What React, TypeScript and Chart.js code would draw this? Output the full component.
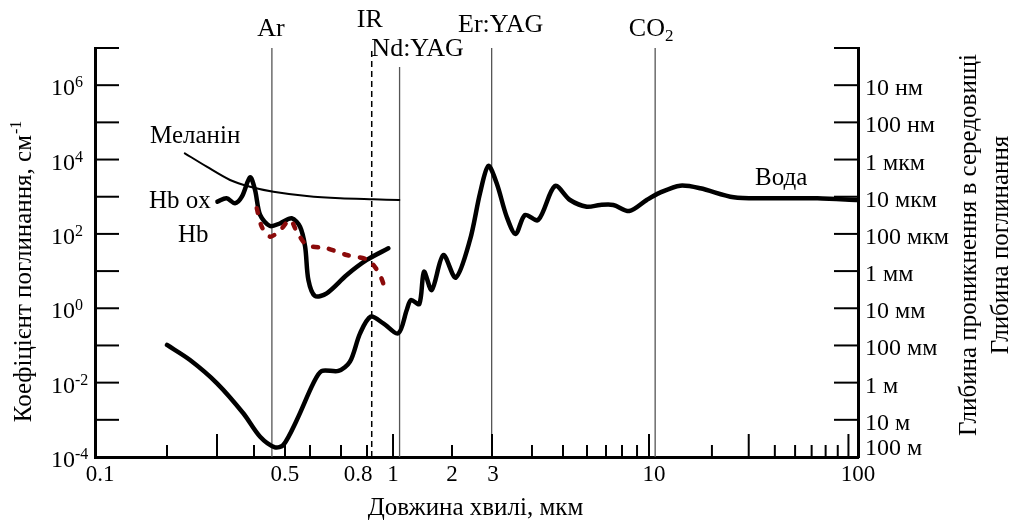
import React, { useEffect, useRef } from 'react';
import { Chart, registerables, LogarithmicScale } from 'chart.js';

Chart.register(...registerables);

// ---------------- data ----------------
// wavelength in µm, absorption coefficient in cm^-1
const waterWavelength = [0.2, 0.241, 0.3, 0.368, 0.418, 0.465, 0.494, 0.545, 0.61, 0.636, 0.691, 0.733, 0.772, 0.826, 0.92, 1.064, 1.175, 1.235, 1.362, 1.439, 1.576, 1.806, 2.077, 2.4, 2.657, 2.89, 3.103, 3.335, 3.557, 3.804, 4.185, 4.72, 5.274, 5.987, 6.67, 7.441, 8.472, 9.8, 11.29, 14.1, 17.59, 25.43, 36.8, 64, 100];
const waterAbsorption = [0.103, 0.0406, 0.0096, 0.0015, 3.5e-4, 1.82e-4, 2.1e-4, 9.9e-4, 0.0096, 0.0206, 0.0206, 0.0366, 0.212, 0.594, 0.394, 0.212, 0.9, 1.67, 1.3, 9.64, 3.1, 27.1, 6.65, 68.6, 1237, 6714, 2300, 290, 99.5, 323, 237, 1945, 817, 540, 600, 600, 413, 817, 1285, 1982, 1687, 966, 908, 908, 817];

const hbOxWavelength = [0.301, 0.323, 0.345, 0.364, 0.388, 0.403, 0.418, 0.449, 0.483, 0.525, 0.558, 0.579, 0.593, 0.615, 0.652, 0.721, 0.799, 0.961];
const hbOxAbsorption = [736, 908, 666, 1002, 3334, 1518, 323, 163, 193, 263, 156, 45.3, 5.76, 2.14, 2.53, 7.85, 19.9, 41.0];

const hbWavelength = [0.408, 0.423, 0.449, 0.483, 0.519, 0.545, 0.586, 0.652, 0.721, 0.799, 0.845, 0.894, 0.947];
const hbAbsorption = [489, 156, 84.2, 127, 237, 115, 50.4, 41.0, 27.1, 20.8, 14.6, 7.85, 2.53];

const melaninWavelength = [0.231, 0.276, 0.332, 0.388, 0.46, 0.586, 0.697, 0.845, 1.077];
const melaninAbsorption = [14730, 6427, 2818, 1862, 1366, 1047, 908, 853, 817];

const laserNames = ['Ar', 'IR', 'Nd:YAG', 'Er:YAG', 'CO2'];
const laserWavelengths = [0.455, 0.833, 1.08, 2.99, 10.7];
const laserTopAbsorption = [1e7, 1e7, 3.1e6, 1e7, 1e7];

// wavelength axis as drawn in the source figure (its decades are not evenly spaced)
const axisAnchorWavelengths = [0.1, 0.2, 0.3, 0.4, 0.5, 0.6, 0.7, 0.8, 1, 2, 3, 4, 5, 6, 7, 8, 9, 10, 100];
const axisAnchorFractions = [0, 0.0944, 0.1599, 0.2084, 0.249, 0.2818, 0.3224, 0.3565, 0.3906, 0.4679, 0.5203, 0.5727, 0.6134, 0.6448, 0.6697, 0.6907, 0.7104, 0.7261, 1];

const xTickValues = [0.2, 0.3, 0.4, 0.5, 0.6, 0.7, 0.8, 1, 2, 3, 4, 5, 6, 7, 8, 9, 10, 20, 30, 40, 50, 60, 70, 80, 90];
const xLongTickValues = [0.3, 1, 3, 10, 30, 90];
const xLabelValues = [0.1, 0.5, 0.8, 1, 2, 3, 10, 100];
const xLabelTexts = ['0.1', '0.5', '0.8', '1', '2', '3', '10', '100'];

const yTickExponents = [-3, -2, -1, 0, 1, 2, 3, 4, 5, 6, 7];
const yLabelExponents = [6, 4, 2, 0, -2, -4];
const depthLabelTexts = ['10 нм', '100 нм', '1 мкм', '10 мкм', '100 мкм', '1 мм', '10 мм', '100 мм', '1 м', '10 м', '100 м'];
const depthLabelExponents = [6, 5, 4, 3, 2, 1, 0, -1, -2, -3, -4];

// ---------------- styles ----------------
const SERIF = '"Liberation Serif", "Times New Roman", serif';
const xLabelDx = [5, 0, -9, 0, 0, 1, 5, 0];
const laserLabelDx = [-1, -2, 18, 9, -4];
const laserLabelBaseline = [36, 27, 56, 32, 36];

// ---------------- warped log scale ----------------
const anchorLogs = axisAnchorWavelengths.map((v) => Math.log10(v));
function warp(v: number): number {
  const L = Math.log10(v);
  let i = 0;
  while (i < anchorLogs.length - 2 && L > anchorLogs[i + 1]) i++;
  const F = axisAnchorFractions;
  return F[i] + ((L - anchorLogs[i]) / (anchorLogs[i + 1] - anchorLogs[i])) * (F[i + 1] - F[i]);
}
function unwarp(f: number): number {
  const F = axisAnchorFractions;
  let i = 0;
  while (i < F.length - 2 && f > F[i + 1]) i++;
  return Math.pow(10, anchorLogs[i] + ((f - F[i]) / (F[i + 1] - F[i])) * (anchorLogs[i + 1] - anchorLogs[i]));
}

class WarpedLogScale extends LogarithmicScale {
  static id = 'warpedLog';
  static defaults = {};
  getPixelForValue(value: any) {
    if (value === undefined || value === null || !(value > 0)) return NaN;
    return this.getPixelForDecimal(warp(value));
  }
  getValueForPixel(pixel: number) {
    return unwarp(this.getDecimalForPixel(pixel));
  }
}
Chart.register(WarpedLogScale as any);

const pts = (xs: number[], ys: number[]) => xs.map((x, i) => ({ x, y: ys[i] }));

const overlayPlugin = {
  id: 'overlay',
  afterDraw(chart: any) {
    const { ctx, chartArea: a, scales } = chart;
    const xs = scales.x;
    const ys = scales.y;
    ctx.save();
    ctx.strokeStyle = '#000';
    ctx.fillStyle = '#000';
    ctx.lineWidth = 2;
    const seg = (x1: number, y1: number, x2: number, y2: number) => {
      ctx.beginPath();
      ctx.moveTo(x1, y1);
      ctx.lineTo(x2, y2);
      ctx.stroke();
    };
    // x ticks (inside)
    xTickValues.forEach((v) => {
      const px = xs.getPixelForValue(v);
      const len = xLongTickValues.includes(v) ? 23 : 12;
      seg(px, a.bottom, px, a.bottom - len);
    });
    // y ticks (inside) on both axes
    yTickExponents.forEach((e) => {
      const py = ys.getPixelForValue(Math.pow(10, e));
      seg(a.left, py, a.left + 24, py);
      seg(a.right - 24, py, a.right, py);
    });

    // x tick labels
    ctx.font = `23px ${SERIF}`;
    ctx.textAlign = 'center';
    ctx.textBaseline = 'alphabetic';
    xLabelValues.forEach((v, i) => {
      ctx.fillText(xLabelTexts[i], xs.getPixelForValue(v) + xLabelDx[i], a.bottom + 24);
    });

    // left labels 10^n
    yLabelExponents.forEach((e) => {
      const py = ys.getPixelForValue(Math.pow(10, e));
      ctx.font = `24px ${SERIF}`;
      ctx.textAlign = 'right';
      ctx.fillText('10', a.left - 20, py + 10);
      ctx.font = `16px ${SERIF}`;
      ctx.textAlign = 'left';
      ctx.fillText(String(e), a.left - 20, py + 2);
    });

    // right labels (penetration depth)
    ctx.font = `24px ${SERIF}`;
    ctx.textAlign = 'left';
    depthLabelExponents.forEach((e, i) => {
      const py = ys.getPixelForValue(Math.pow(10, e));
      ctx.fillText(depthLabelTexts[i], a.right + 7, Math.min(py + 10, a.bottom - 2));
    });

    // laser lines labels
    laserNames.forEach((name, i) => {
      const px = xs.getPixelForValue(laserWavelengths[i]) + laserLabelDx[i];
      const by = laserLabelBaseline[i];
      if (name === 'CO2') {
        ctx.font = `26px ${SERIF}`;
        const w1 = ctx.measureText('CO').width;
        ctx.font = `17px ${SERIF}`;
        const w2 = ctx.measureText('2').width;
        const x0 = px - (w1 + w2) / 2;
        ctx.textAlign = 'left';
        ctx.font = `26px ${SERIF}`;
        ctx.fillText('CO', x0, by);
        ctx.font = `17px ${SERIF}`;
        ctx.fillText('2', x0 + w1, by + 5);
      } else {
        ctx.font = `26px ${SERIF}`;
        ctx.textAlign = 'center';
        ctx.fillText(name, px, by);
      }
    });

    // curve labels
    ctx.font = `25px ${SERIF}`;
    ctx.textAlign = 'left';
    ctx.fillText('Меланін', 150, 143);
    ctx.fillText('Hb ox', 149, 208);
    ctx.fillText('Hb', 178, 242);
    ctx.fillText('Вода', 755, 185);

    // bottom title
    ctx.textAlign = 'center';
    ctx.fillText('Довжина хвилі, мкм', (a.left + a.right) / 2 - 1, 515);

    // left title (rotated) with superscript
    ctx.save();
    ctx.translate(31, 272);
    ctx.rotate(-Math.PI / 2);
    ctx.font = `25px ${SERIF}`;
    const main = 'Коефіцієнт поглинання, см';
    const wm = ctx.measureText(main).width;
    ctx.font = `16px ${SERIF}`;
    const ws = ctx.measureText('-1').width;
    const start = -(wm + ws) / 2;
    ctx.textAlign = 'left';
    ctx.font = `25px ${SERIF}`;
    ctx.fillText(main, start, 0);
    ctx.font = `16px ${SERIF}`;
    ctx.fillText('-1', start + wm + 1, -10);
    ctx.restore();

    // right titles (rotated)
    ctx.save();
    ctx.font = `25px ${SERIF}`;
    ctx.textAlign = 'center';
    ctx.translate(976, 245);
    ctx.rotate(-Math.PI / 2);
    ctx.fillText('Глибина проникнення в середовищі', 0, 0);
    ctx.restore();
    ctx.save();
    ctx.font = `25px ${SERIF}`;
    ctx.textAlign = 'center';
    ctx.translate(1008, 245);
    ctx.rotate(-Math.PI / 2);
    ctx.fillText('Глибина поглинання', 0, 0);
    ctx.restore();

    ctx.restore();
  },
};

const curveStyle = {
  pointRadius: 0,
  tension: 0.3,
  borderCapStyle: 'round' as const,
  borderJoinStyle: 'round' as const,
  fill: false,
};

export default function App() {
  const ref = useRef<HTMLCanvasElement | null>(null);
  useEffect(() => {
    if (!ref.current) return;
    const laserSets = laserNames.map((name, i) => ({
      label: name,
      data: [
        { x: laserWavelengths[i], y: 1e-4 },
        { x: laserWavelengths[i], y: laserTopAbsorption[i] },
      ],
      borderColor: name === 'IR' ? '#000' : '#555',
      borderWidth: name === 'IR' ? 1.5 : 1.3,
      borderDash: name === 'IR' ? [6, 4] : [],
      pointRadius: 0,
      tension: 0,
    }));
    const chart = new Chart(ref.current, {
      type: 'line',
      data: {
        datasets: [
          { label: 'Hb', data: pts(hbWavelength, hbAbsorption), borderColor: '#8b0a0a', borderWidth: 4.5, borderDash: [5, 11], ...curveStyle },
          { label: 'Вода', data: pts(waterWavelength, waterAbsorption), borderColor: '#000', borderWidth: 4.5, ...curveStyle },
          { label: 'Hb ox', data: pts(hbOxWavelength, hbOxAbsorption), borderColor: '#000', borderWidth: 4.5, ...curveStyle },
          { label: 'Меланін', data: pts(melaninWavelength, melaninAbsorption), borderColor: '#000', borderWidth: 2, ...curveStyle },
          ...laserSets,
        ] as any,
      },
      options: {
        responsive: false,
        maintainAspectRatio: false,
        animation: false,
        layout: { padding: { left: 95, right: 158, top: 48, bottom: 67 } },
        plugins: { legend: { display: false }, tooltip: { enabled: false } },
        scales: {
          x: {
            type: 'warpedLog' as any,
            min: 0.1,
            max: 100,
            ticks: { display: false },
            grid: { display: false, drawTicks: false },
            border: { display: true, width: 3, color: '#000' },
          },
          y: {
            type: 'logarithmic',
            position: 'left',
            min: 1e-4,
            max: 1e7,
            ticks: { display: false },
            grid: { display: false, drawTicks: false },
            border: { display: true, width: 3, color: '#000' },
          },
          y2: {
            type: 'logarithmic',
            position: 'right',
            min: 1e-4,
            max: 1e7,
            ticks: { display: false },
            grid: { display: false, drawTicks: false },
            border: { display: true, width: 3, color: '#000' },
          },
        },
      } as any,
      plugins: [overlayPlugin],
    });
    return () => chart.destroy();
  }, []);
  return (
    <div style={{ position: 'fixed', left: 0, top: 0, width: 1016, height: 524, background: '#fff' }}>
      <canvas ref={ref} width={1016} height={524} style={{ display: 'block', width: 1016, height: 524 }} />
    </div>
  );
}
